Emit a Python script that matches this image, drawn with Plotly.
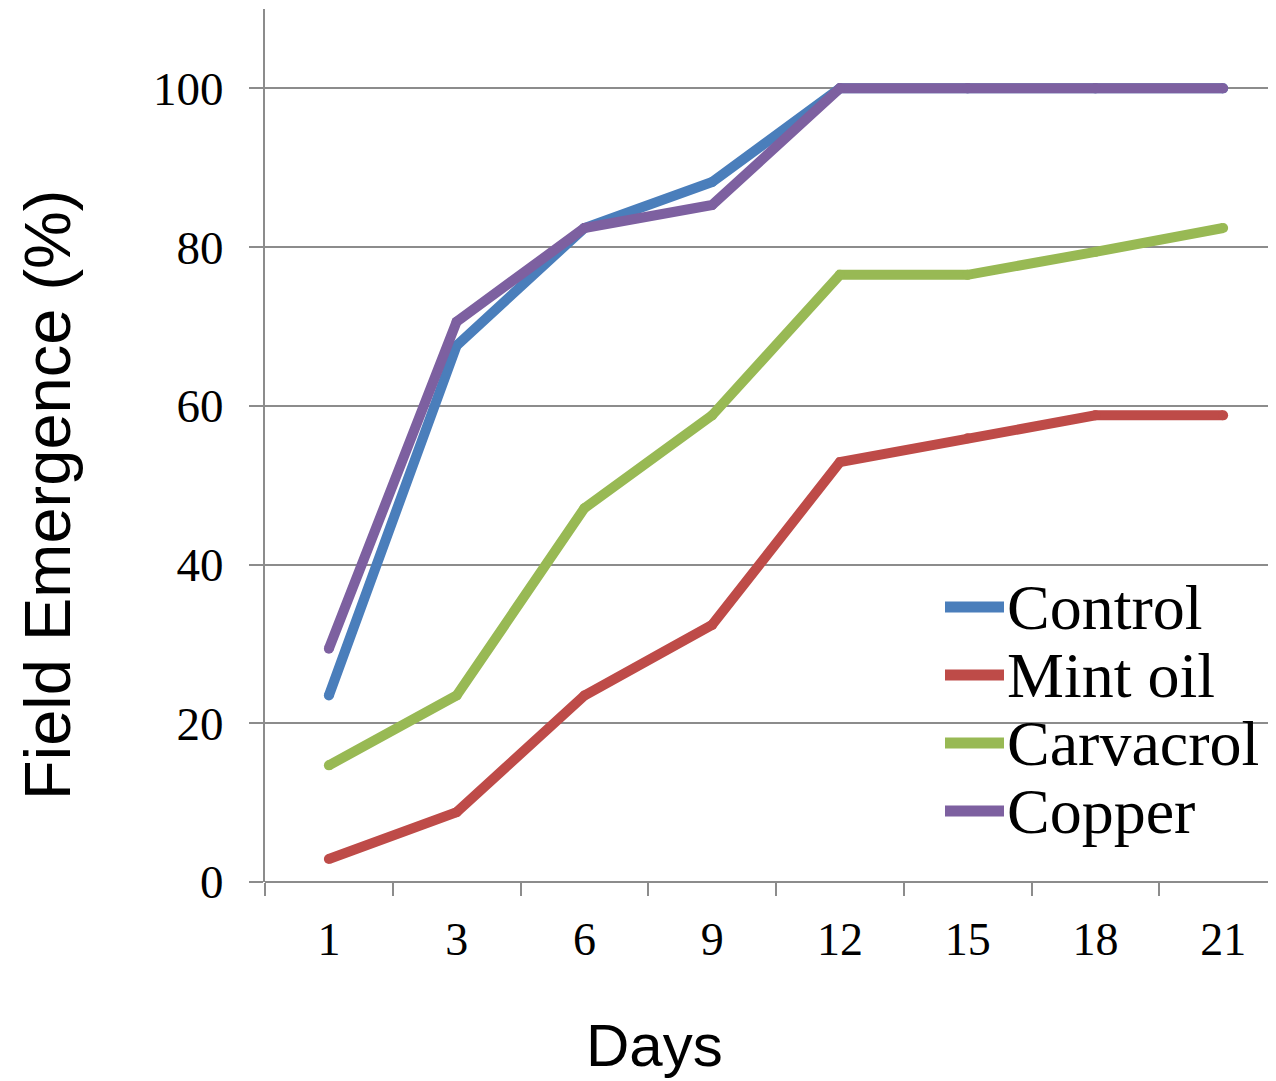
"""Field emergence over days for four seed treatments."""

import plotly.graph_objects as go

days = ["1", "3", "6", "9", "12", "15", "18", "21"]

control = [23.5, 67.6, 82.4, 88.2, 100, 100, 100, 100]
mint_oil = [2.9, 8.8, 23.5, 32.4, 52.9, 55.9, 58.8, 58.8]
carvacrol = [14.7, 23.5, 47.1, 58.8, 76.5, 76.5, 79.4, 82.4]
copper = [29.4, 70.6, 82.4, 85.3, 100, 100, 100, 100]

series_names = ["Control", "Mint oil", "Carvacrol", "Copper"]
series_values = [control, mint_oil, carvacrol, copper]
series_colors = ["#4a7ebb", "#be4b48", "#98b954", "#7d60a0"]

# the page body adds an 8px margin, so work in screen pixels and shift
OFF = 8
SCREEN_W, SCREEN_H = 1276, 1081
W, H = SCREEN_W - OFF, SCREEN_H - OFF
# plot area, screen pixels
L, R, T, B = 265, 1276, 9, 882
CAT_W = 127.75
LINE_W = 10

AXIS_GRAY = "#8c8c8c"

fig = go.Figure()

for name, vals, col in zip(series_names, series_values, series_colors):
    # markers the size of the line width give the rounded line ends
    fig.add_trace(go.Scatter(
        x=days,
        y=vals,
        mode="lines+markers",
        name=name,
        line=dict(color=col, width=LINE_W),
        marker=dict(color=col, size=LINE_W, line=dict(width=0)),
        showlegend=False,
    ))


def px_to_paper(x, y):
    return (x - L) / (R - L), (B - y) / (B - T)


# hand-built legend so the rows sit as tight as in the original
legend_rows = [607, 675, 743, 811]
for name, col, row_y in zip(series_names, series_colors, legend_rows):
    x0, y0 = px_to_paper(945, row_y)
    x1, _ = px_to_paper(1004, row_y)
    fig.add_shape(
        type="line", xref="paper", yref="paper",
        x0=x0, x1=x1, y0=y0, y1=y0,
        line=dict(color=col, width=11),
    )
    tx, ty = px_to_paper(1005, row_y)
    fig.add_annotation(
        text=name, xref="paper", yref="paper", x=tx, y=ty,
        xanchor="left", yanchor="middle", showarrow=False,
        font=dict(family="Liberation Serif", size=64, color="black"),
    )

# axis titles (placed like the original, not centred on the plot)
ax, ay = px_to_paper(654, 1045)
fig.add_annotation(
    text="Days", xref="paper", yref="paper", x=ax, y=ay,
    xanchor="center", yanchor="middle", showarrow=False,
    font=dict(family="Liberation Sans", size=60, color="black"),
)
ax, ay = px_to_paper(47, 495)
fig.add_annotation(
    text="Field Emergence (%)", xref="paper", yref="paper", x=ax, y=ay,
    xanchor="center", yanchor="middle", showarrow=False, textangle=-90,
    font=dict(family="Liberation Sans", size=65, color="black"),
)

fig.update_layout(
    width=W,
    height=H,
    margin=dict(l=L - OFF, r=0, t=T - OFF, b=H - (B - OFF)),
    plot_bgcolor="white",
    paper_bgcolor="white",
    showlegend=False,
    xaxis=dict(
        type="category",
        range=[-0.5, -0.5 + (R - L) / CAT_W],
        showgrid=False,
        zeroline=False,
        showline=False,
        tickson="boundaries",
        ticks="outside",
        ticklen=13,
        tickwidth=2,
        tickcolor=AXIS_GRAY,
        ticklabelstandoff=26,
        tickfont=dict(family="Liberation Serif", size=46, color="black"),
    ),
    yaxis=dict(
        range=[0, 110],
        tickvals=[0, 20, 40, 60, 80, 100],
        showgrid=True,
        gridcolor=AXIS_GRAY,
        gridwidth=2,
        zeroline=True,
        zerolinecolor=AXIS_GRAY,
        zerolinewidth=2,
        showline=True,
        linecolor=AXIS_GRAY,
        linewidth=2,
        ticks="outside",
        ticklen=14,
        tickwidth=2,
        tickcolor=AXIS_GRAY,
        ticklabelstandoff=16,
        tickfont=dict(family="Liberation Serif", size=47, color="black"),
    ),
)

fig.write_html("out.html")
